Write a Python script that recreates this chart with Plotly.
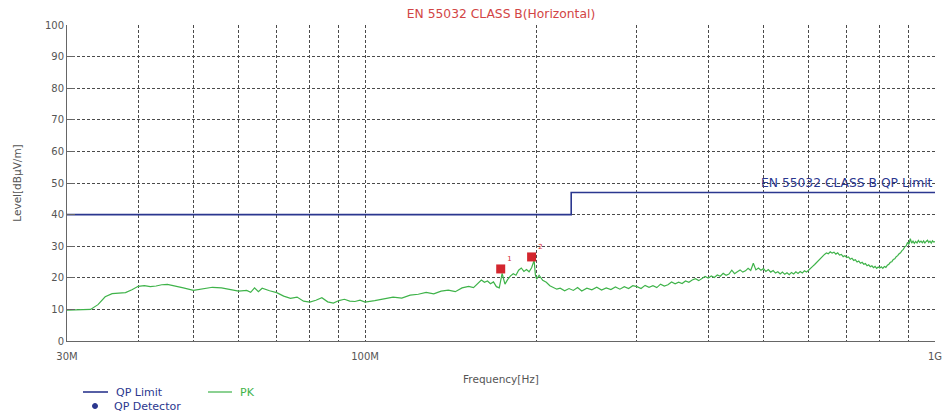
import plotly.graph_objects as go
import numpy as np

# ---------------- data ----------------
limit_freq = [30, 230, 1000]          # MHz
limit_level = [40, 47, 47]            # dBuV/m

pk_freq = [30, 31, 32, 33, 34, 35, 36, 37, 38, 39, 40, 41, 42, 43, 44, 45, 46, 48, 50, 52,
           54, 56, 58, 60, 62, 63, 64, 65, 66, 67, 68, 70, 72, 74, 76, 78, 80, 82, 84, 86,
           88, 90, 92, 94, 96, 98, 100,
           104, 108, 112, 116, 120, 124, 128, 132, 136, 140, 144, 148, 152, 155, 158, 160,
           162, 164, 166, 168, 170, 172, 174, 176, 178, 180, 182, 184, 186, 188, 190, 192,
           194, 196, 198, 199, 200, 202, 205, 208, 211, 214, 217, 220, 224, 228, 232, 236,
           240, 245, 250, 255, 260, 265, 270, 275, 280, 285, 290, 295,
           300, 305, 310, 315, 320, 325, 330, 335, 340, 345, 350, 355, 360, 365, 370, 375,
           380, 385, 390, 395, 400, 405, 410, 415, 420, 425, 430, 435, 440, 445, 450, 455,
           460, 465, 470, 475, 480, 485, 490, 495, 500, 505, 510, 515, 520, 525, 530, 535,
           540, 545, 550, 555, 560, 565, 570, 575, 580, 585, 590, 595, 600, 605, 610, 615,
           620, 625, 630, 635, 640, 645, 650, 655, 660, 665, 670, 675, 680, 685, 690, 695,
           700, 705, 710, 715, 720, 725, 730, 735, 740, 745, 750, 755, 760, 765, 770, 775,
           780, 785, 790, 795, 800, 805, 810, 815, 820, 825, 830, 835, 840, 845, 850, 855,
           860, 865, 870, 875, 880, 885, 890, 895, 900, 905, 910, 915, 920, 925, 930, 935,
           940, 945, 950, 955, 960, 965, 970, 975, 980, 985, 990, 995, 1000]
pk_level = [9.8, 9.9, 10.1, 10.0, 11.5, 14.0, 15.0, 15.2, 15.3, 16.2, 17.3, 17.5, 17.2, 17.4, 17.8, 17.9, 17.6, 16.8, 16.0, 16.5,
            17.0, 16.8, 16.3, 15.8, 16.0, 15.4, 16.8, 15.6, 16.7, 16.2, 15.9, 15.3, 14.2, 13.5, 13.9, 12.6, 12.3, 12.9, 13.7, 12.4,
            12.0, 12.8, 13.2, 12.6, 12.5, 12.9, 12.3,
            12.8, 13.3, 13.9, 13.6, 14.5, 14.8, 15.4, 14.9, 15.8, 16.1, 15.6, 16.8, 17.3, 16.9, 18.2, 19.3,
            18.6, 19.0, 18.1, 18.7, 17.2, 16.8, 21.4, 18.0, 19.5, 20.6, 21.3, 20.8, 22.4, 23.1, 22.0, 22.6,
            21.9, 23.2, 25.5, 21.0, 19.6, 20.8, 19.2, 18.6, 17.5, 17.0, 16.4, 16.7, 15.9, 16.6, 16.0, 16.9,
            15.8, 16.7, 16.2, 17.0, 16.1, 16.8, 16.3, 17.1, 16.4, 17.2, 16.6, 17.5,
            17.2, 16.6, 17.6, 17.0, 17.5, 16.9, 18.0, 17.4, 17.8, 18.7, 18.1, 18.6, 18.2, 19.0, 18.6, 19.3,
            19.7, 19.1, 19.8, 20.4, 19.9, 20.6, 20.1, 20.9, 20.5, 21.4, 20.8, 21.2, 22.4, 21.3, 21.9, 22.5,
            21.8, 22.2, 23.0, 22.3, 24.6, 22.5, 23.1, 22.4, 22.9, 22.0, 22.6, 21.8, 22.3, 21.5, 21.9, 21.2,
            21.8, 21.1, 21.6, 21.0, 21.7, 21.2, 21.9, 21.4, 22.0, 21.5, 22.2, 21.8, 22.4, 22.9, 23.6, 24.2,
            24.9, 25.6, 26.3, 26.9, 27.4, 27.9, 27.6, 28.2, 27.8, 28.1, 27.5, 27.9, 27.2, 27.4, 26.7, 27.0,
            26.4, 26.6, 25.9, 26.2, 25.5, 25.7, 25.0, 25.3, 24.6, 24.9, 24.3, 24.5, 23.8, 24.1, 23.5, 23.8,
            23.2, 23.6, 23.0, 23.4, 23.1, 23.5, 23.0, 23.6, 23.3, 24.0, 24.3, 24.9, 25.1, 25.8, 26.0, 26.7,
            27.0, 27.6, 27.9, 28.6, 29.0, 29.8, 30.1, 31.2, 30.6, 32.4, 31.0, 31.6, 30.9, 31.5, 31.0, 31.8,
            31.2, 31.6, 31.1, 31.7, 31.0, 31.5, 31.9, 31.2, 31.6, 31.0, 31.7, 31.3, 31.5]

marker_freq = [173, 196]
marker_level = [22.8, 26.6]
marker_label = ["1", "2"]

tick_vals = [30, 40, 50, 60, 70, 80, 90, 100, 200, 300, 400, 500, 600, 700, 800, 900, 1000]
tick_text = ["30M", "", "", "", "", "", "", "100M", "", "", "", "", "", "", "", "", "1G"]

# ---------------- style ----------------
FONT = "DejaVu Sans"
NAVY = "#2b378f"
GREEN = "#3fb34a"
RED = "#d3262e"
GRID = "#4a4a4a"
W, H = 944, 414
ML, MR, MT, MB = 67, 9, 25, 73
PW, PH = W - ML - MR, H - MT - MB


def px(xp):
    return (xp - ML) / PW


def py(yp):
    return (H - MB - yp) / PH


fig = go.Figure()

fig.add_trace(go.Scatter(
    x=limit_freq, y=limit_level, mode="lines", line=dict(color=NAVY, width=1.6, shape="hv"),
    name="QP Limit", showlegend=False))
fig.add_trace(go.Scatter(
    x=pk_freq, y=pk_level, mode="lines", line=dict(color=GREEN, width=1.2),
    name="PK", showlegend=False))
fig.add_trace(go.Scatter(
    x=marker_freq, y=marker_level, mode="markers+text", text=marker_label,
    textposition="top right", textfont=dict(family=FONT, size=7, color=RED),
    marker=dict(color=RED, size=9, symbol="square"), showlegend=False))

fig.add_annotation(
    x=np.log10(1000), y=47, xref="x", yref="y", text="EN 55032 CLASS B QP Limit",
    showarrow=False, xanchor="right", yanchor="bottom",
    font=dict(family=FONT, size=12.3, color=NAVY))

# ---- legend (drawn manually below the plot) ----
leg_font = dict(family=FONT, size=11)
fig.add_shape(type="line", xref="paper", yref="paper", x0=px(83), x1=px(108), y0=py(392), y1=py(392),
              line=dict(color=NAVY, width=1.6))
fig.add_annotation(xref="paper", yref="paper", x=px(114), y=py(392), text="QP Limit", showarrow=False,
                   xanchor="left", yanchor="middle", font=dict(color=NAVY, **leg_font))
fig.add_shape(type="line", xref="paper", yref="paper", x0=px(208), x1=px(232), y0=py(392), y1=py(392),
              line=dict(color=GREEN, width=1.2))
fig.add_annotation(xref="paper", yref="paper", x=px(238), y=py(392), text="PK", showarrow=False,
                   xanchor="left", yanchor="middle", font=dict(color=GREEN, **leg_font))
fig.add_shape(type="circle", xref="paper", yref="paper", x0=px(92.5), x1=px(97.5), y0=py(408.5), y1=py(403.5),
              line=dict(color=NAVY, width=1), fillcolor=NAVY)
fig.add_annotation(xref="paper", yref="paper", x=px(112), y=py(406), text="QP Detector", showarrow=False,
                   xanchor="left", yanchor="middle", font=dict(color=NAVY, **leg_font))

fig.update_layout(
    width=W, height=H,
    margin=dict(l=ML, r=MR, t=MT, b=MB),
    paper_bgcolor="white", plot_bgcolor="white",
    font=dict(family=FONT, size=10, color="#555555"),
    title=dict(text="EN 55032 CLASS B(Horizontal)", xref="paper", x=0.5, xanchor="center",
               yref="container", y=1 - 14 / H, yanchor="middle",
               font=dict(family=FONT, size=12.3, color="#d24545")),
    showlegend=False,
)

fig.update_xaxes(
    type="log", range=[np.log10(30), np.log10(1000)],
    tickvals=tick_vals, ticktext=tick_text, automargin=False,
    showgrid=True, gridcolor=GRID, gridwidth=0.8, griddash="3px,2px",
    showline=True, linecolor="#666666", linewidth=1,
    ticks="", zeroline=False, ticklabelstandoff=6, ticklabeloverflow="allow",
    tickfont=dict(family=FONT, size=10, color="#555555"),
    title=dict(text="Frequency[Hz]", font=dict(family=FONT, size=10.5, color="#555555"), standoff=14),
)
fig.update_yaxes(
    range=[0, 100], dtick=10, automargin=False,
    showgrid=True, gridcolor=GRID, gridwidth=0.8, griddash="3px,2px",
    showline=True, linecolor="#666666", linewidth=1,
    ticks="inside", ticklen=8, tickcolor="#666666", zeroline=False,
    tickfont=dict(family=FONT, size=10, color="#555555"),
    title=dict(text="Level[dBμV/m]", font=dict(family=FONT, size=10.5, color="#555555"), standoff=21),
)

fig.write_html("out.html", config={"displayModeBar": False},
               post_script="document.body.style.margin='0';document.body.style.overflow='hidden';")
